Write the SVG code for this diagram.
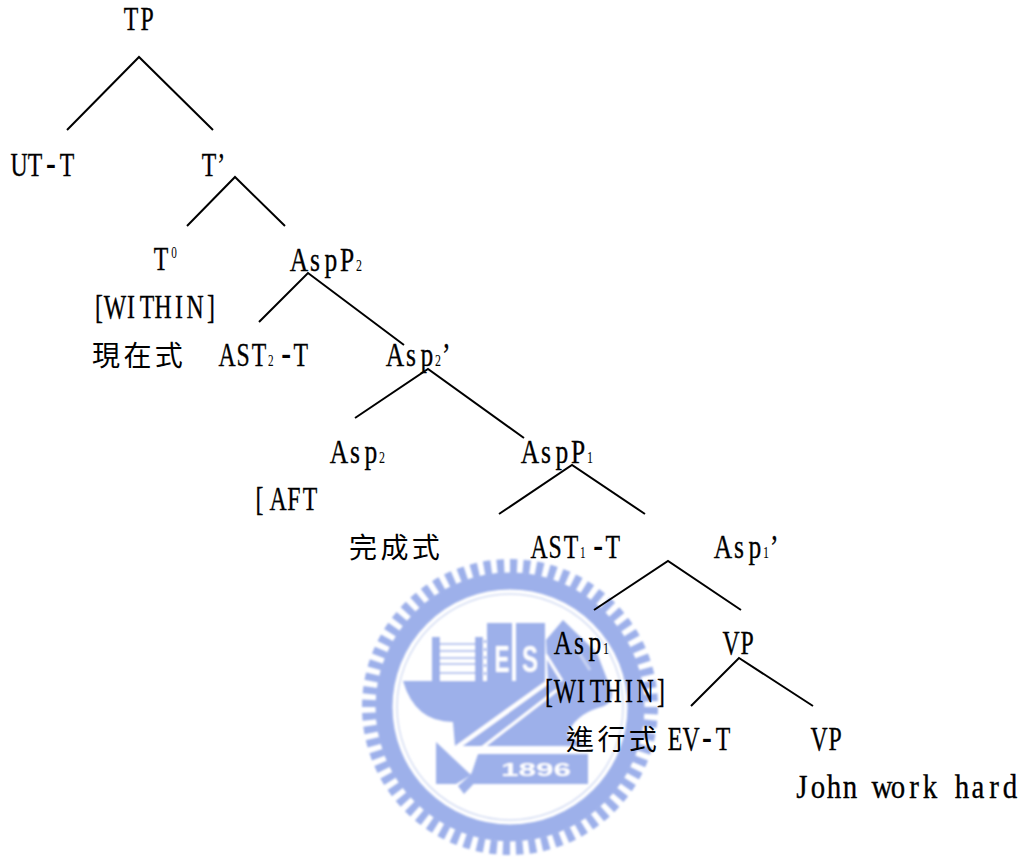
<svg xmlns="http://www.w3.org/2000/svg" width="1022" height="858" viewBox="0 0 1022 858">
<style>
.t{font-family:"Liberation Serif",serif;font-size:34px;fill:#000;stroke:#000;stroke-width:.35;text-anchor:middle}
.s{font-size:16px;stroke-width:0}
.h{font-size:42px;stroke-width:0}
.c{font-family:"Noto Sans CJK TC","Noto Sans CJK SC",sans-serif;font-size:28px;letter-spacing:3.4px;fill:#000}
.l{stroke:#000;stroke-width:2;fill:none}
.b{fill:#9db0ea}
.w{fill:#fff}
.f{font-family:"Liberation Sans",sans-serif;font-weight:700;fill:#fff}
</style>
<defs><filter id="bl" x="-5%" y="-5%" width="110%" height="110%"><feGaussianBlur stdDeviation="0.8"/></filter></defs>
<rect width="1022" height="858" fill="#fff"/>
<g id="watermark" filter="url(#bl)">
<circle cx="510" cy="707" r="141" fill="none" stroke="#9db0ea" stroke-width="14" pathLength="68" stroke-dasharray=".55 .45"/>
<circle cx="510" cy="707" r="126" fill="none" stroke="#9db0ea" stroke-width="17"/>
<circle cx="510" cy="707" r="113" fill="none" stroke="#d5ddf3" stroke-width="1.5"/>
<path class="b" d="M432 637H483V682H432Z"/>
<path class="w" d="M440 637H475V682H440Z"/>
<path class="b" d="M440 643H475V645H440ZM440 650H475V652H440ZM440 657H475V659H440ZM440 663H475V665H440ZM440 672H475V674H440Z" opacity=".75"/>
<path class="w" d="M483 637h3v46h-3z"/>
<path class="b" d="M484 640h2v3h-2zM484 648h2v3h-2zM484 656h2v3h-2zM484 664h2v3h-2zM484 672h2v3h-2z"/>
<rect class="b" x="487" y="623" width="25" height="59"/>
<rect class="b" x="516" y="623" width="29" height="59"/>
<path class="b" d="M403 681H548L546 640L563 620L597 653L612 692Q613 705 598 708Q575 715 567 735L585 746H455L453 722Q415 722 403 681Z"/>
<path d="M546 655L562 681" stroke="#fff" stroke-width="3" fill="none"/>
<path d="M576 648L590 670" stroke="#c8d3f2" stroke-width="3" fill="none"/>
<path d="M456 748L548 682" stroke="#fff" stroke-width="4.5" fill="none"/>
<path d="M470 757L557 690" stroke="#fff" stroke-width="3" fill="none"/>
<path class="b" d="M436 742L471 775L456 784H436Z"/>
<path class="b" d="M458 786L475 771L481 776L464 794Z"/>
<path class="b" d="M478 754H588V784H465L472 772Z"/>
<text class="f" x="502" y="672" font-size="36" text-anchor="middle" textLength="15" lengthAdjust="spacingAndGlyphs">E</text>
<text class="f" x="530" y="672" font-size="36" text-anchor="middle" textLength="16" lengthAdjust="spacingAndGlyphs">S</text>
<text class="f" x="501" y="776" font-size="18" textLength="70" lengthAdjust="spacingAndGlyphs">1896</text>
</g>
<g id="connectors" class="l">
<path d="M67 130L139 57L213 130"/>
<path d="M187 226L235 177L285 226"/>
<path d="M259 322L308 273L404 345"/>
<path d="M355 418L428 369L524 438"/>
<path d="M499 514L572 465L645 514"/>
<path d="M594 610L668 561L741 610"/>
<path d="M691 706L739 658L813 706"/>
</g>
<g id="n-tp"><text class="t" transform="translate(123,30) scale(.7,1)" x="11.4 34.3">TP</text></g>
<g id="n-utt"><text class="t" transform="translate(11,176) scale(.7,1)" x="11.4 34.3">UT<tspan class="h" x="57.1">-</tspan><tspan x="80">T</tspan></text></g>
<g id="n-tbar"><text class="t" transform="translate(201,176) scale(.7,1)" x="11.4 29">T’</text></g>
<g id="n-t0"><text class="t" transform="translate(153,270) scale(.7,1)" x="11.4">T<tspan class="s" x="30" dy="-12">0</tspan></text></g>
<g id="n-aspp2"><text class="t" transform="translate(291,271) scale(.75,1)" x="10.7 32 53.3 74.7">AspP<tspan class="s" x="90.7">2</tspan></text></g>
<g id="n-within1"><text class="t" transform="translate(91,318) scale(.7,1)" x="11.4 34.3 57.1 80 102.9 125.7 148.6 171.4">[WITHIN]</text></g>
<g id="n-pres"><text class="c" x="92" y="366">現在式</text></g>
<g id="n-ast2"><text class="t" transform="translate(219,366) scale(.7,1)" x="11.4 34.3 57.1">AST<tspan class="s" x="74">2</tspan><tspan class="h" x="96">-</tspan><tspan x="117">T</tspan></text></g>
<g id="n-asp2bar"><text class="t" transform="translate(387,366) scale(.75,1)" x="10.7 32 53.3">Asp<tspan class="s" x="68">2</tspan><tspan x="79">’</tspan></text></g>
<g id="n-asp2"><text class="t" transform="translate(331,463) scale(.75,1)" x="10.7 32 53.3">Asp<tspan class="s" x="68">2</tspan></text></g>
<g id="n-aspp1"><text class="t" transform="translate(522,463) scale(.75,1)" x="10.7 32 53.3 74.7">AspP<tspan class="s" x="90.7">1</tspan></text></g>
<g id="n-aft"><text class="t" transform="translate(254,510) scale(.7,1)" x="8 34.3 57.1 80">[AFT</text></g>
<g id="n-perf"><text class="c" x="349" y="558">完成式</text></g>
<g id="n-ast1"><text class="t" transform="translate(531,558) scale(.7,1)" x="11.4 34.3 57.1">AST<tspan class="s" x="74">1</tspan><tspan class="h" x="96">-</tspan><tspan x="117">T</tspan></text></g>
<g id="n-asp1bar"><text class="t" transform="translate(715,558) scale(.75,1)" x="10.7 32 53.3">Asp<tspan class="s" x="68">1</tspan><tspan x="79">’</tspan></text></g>
<g id="n-asp1"><text class="t" transform="translate(555,654) scale(.75,1)" x="10.7 32 53.3">Asp<tspan class="s" x="68">1</tspan></text></g>
<g id="n-vp1"><text class="t" transform="translate(723,654) scale(.7,1)" x="11.4 34.3">VP</text></g>
<g id="n-within2"><text class="t" transform="translate(541,702) scale(.7,1)" x="11.4 34.3 57.1 80 102.9 125.7 148.6 171.4">[WITHIN]</text></g>
<g id="n-prog"><text class="c" x="566" y="750">進行式</text></g>
<g id="n-evt"><text class="t" transform="translate(667,750) scale(.7,1)" x="11.4 34.3">EV<tspan class="h" x="57.1">-</tspan><tspan x="80">T</tspan></text></g>
<g id="n-vp2"><text class="t" transform="translate(811,750) scale(.7,1)" x="11.4 34.3">VP</text></g>
<g id="n-john"><text class="t" transform="translate(794,798) scale(.85,1)" x="9.4 28.2 47.1 65.9 84.7 103.5 122.4 141.2 160 178.8 197.6 216.5 235.3 254.1">John work hard</text></g>
</svg>
